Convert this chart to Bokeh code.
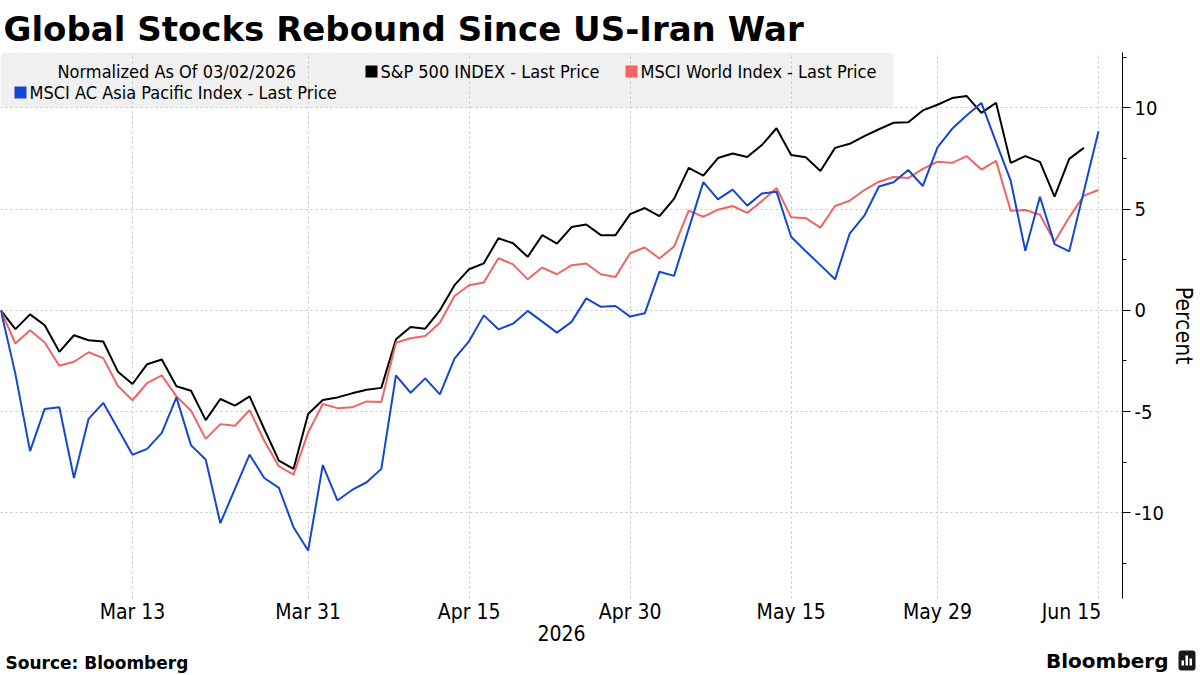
import pandas as pd
from bokeh.plotting import figure
from bokeh.layouts import column, row
from bokeh.core.properties import value
from bokeh.models import Range1d, FixedTicker, Label, BoxAnnotation, ColumnDataSource
from bokeh.embed import file_html
from bokeh.resources import INLINE

# Trading calendar (weekdays), normalized to 0 on 03/02/2026
dates = pd.bdate_range("2026-03-02", "2026-06-15")

spx = [0.00, -0.93, -0.20, -0.74, -2.05, -1.23, -1.48, -1.54, -3.03, -3.64,
       -2.66, -2.43, -3.75, -3.97, -5.42, -4.38, -4.71, -4.25, -5.86, -7.42,
       -7.83, -5.12, -4.43, -4.30, -4.10, -3.92, -3.83, -1.43, -0.82, -0.91,
       0.00, 1.24, 2.03, 2.32, 3.56, 3.31, 2.64, 3.71, 3.29, 4.11,
       4.24, 3.71, 3.71, 4.75, 5.05, 4.65, 5.50, 7.03, 6.65, 7.52,
       7.74, 7.57, 8.16, 8.99, 7.67, 7.56, 6.88, 8.02, 8.22, 8.60,
       8.94, 9.26, 9.29, 9.87, 10.15, 10.48, 10.58, 9.75, 10.25, 7.28,
       7.61, 7.33, 5.61, 7.48, 8.02]

world = [0.00, -1.64, -0.98, -1.59, -2.74, -2.54, -2.07, -2.36, -3.74, -4.44,
         -3.59, -3.21, -4.25, -4.96, -6.35, -5.62, -5.70, -4.93, -6.44, -7.70,
         -8.11, -6.03, -4.63, -4.83, -4.79, -4.50, -4.53, -1.60, -1.38, -1.27,
         -0.61, 0.71, 1.24, 1.37, 2.57, 2.27, 1.53, 2.11, 1.78, 2.23,
         2.31, 1.78, 1.65, 2.82, 3.10, 2.56, 3.15, 4.92, 4.62, 4.97,
         5.15, 4.81, 5.39, 6.04, 4.60, 4.55, 4.08, 5.15, 5.41, 5.94,
         6.35, 6.58, 6.53, 6.98, 7.34, 7.28, 7.61, 6.95, 7.38, 4.92,
         4.95, 4.72, 3.38, 4.59, 5.66, 5.94]

asia = [0.00, -3.15, -6.95, -4.87, -4.79, -8.28, -5.36, -4.57, -5.85, -7.13,
        -6.84, -6.05, -4.30, -6.67, -7.37, -10.51, -8.82, -7.13, -8.28, -8.77,
        -10.71, -11.86, -7.64, -9.39, -8.87, -8.49, -7.83, -3.21, -4.07, -3.36,
        -4.15, -2.39, -1.52, -0.25, -0.94, -0.66, -0.03, -0.56, -1.10, -0.57,
        0.59, 0.17, 0.21, -0.31, -0.15, 1.90, 1.70, 4.02, 6.33, 5.48,
        5.96, 5.17, 5.77, 5.86, 3.63, 2.92, 2.23, 1.53, 3.79, 4.67,
        6.11, 6.32, 6.93, 6.14, 8.05, 8.96, 9.63, 10.24, 8.30, 6.40,
        2.94, 5.61, 3.27, 2.91, 5.88, 8.84]

tick_dates = ["2026-03-13", "2026-03-31", "2026-04-15", "2026-04-30",
              "2026-05-15", "2026-05-29", "2026-06-15"]
tick_labels = ["Mar 13", "Mar 31", "Apr 15", "Apr 30", "May 15", "May 29", "Jun 15"]
y_ticks = [-10, -5, 0, 5, 10]
y_minor = [-12.5, -7.5, -2.5, 2.5, 7.5, 12.5]

series_names = ["S&P 500 INDEX - Last Price", "MSCI World Index - Last Price",
                "MSCI AC Asia Pacific Index - Last Price"]
colors = ["#000000", "#f06464", "#1546d2"]

COND = "DejaVu Sans Condensed"
BOLD = "DejaVu Sans"

pos = list(range(len(dates)))
date_index = {d.strftime("%Y-%m-%d"): i for i, d in enumerate(dates)}
tick_pos = [date_index[d] for d in tick_dates]

MAIN_H = 648
FOOT_H = 675 - MAIN_H

p = figure(width=1200, height=MAIN_H, output_backend="svg", toolbar_location=None,
           x_range=Range1d(-0.02, 76.64), y_range=Range1d(-14.23, 12.73),
           y_axis_location="right",
           min_border_left=0, min_border_right=78, min_border_top=52,
           min_border_bottom=50)
p.outline_line_color = None
p.background_fill_color = "white"
p.border_fill_color = "white"

# title
p.title.text = "Global Stocks Rebound Since US-Iran War"
p.title.text_font = BOLD
p.title.text_font_size = "34px"
p.title.text_font_style = "bold"
p.title.text_color = "black"
p.title.align = "left"
p.title.offset = 3
p.title.standoff = 8

# x axis
xax = p.xaxis[0]
xax.ticker = FixedTicker(ticks=tick_pos, minor_ticks=[])
labels = dict(zip(tick_pos, tick_labels))
labels[tick_pos[-1]] = tick_labels[-1] + "\u00a0" * 9
xax.major_label_overrides = labels
xax.axis_line_color = None
xax.major_tick_line_color = None
xax.minor_tick_line_color = None
xax.major_tick_out = 0
xax.major_tick_in = 0
xax.minor_tick_out = 0
xax.major_label_text_font = COND
xax.major_label_text_font_size = "21px"
xax.major_label_text_color = "black"
xax.major_label_standoff = 1
xax.axis_label = "2026"
xax.axis_label_text_font = COND
xax.axis_label_text_font_size = "21px"
xax.axis_label_text_font_style = "normal"
xax.axis_label_text_color = "black"
xax.axis_label_standoff = -2

# y axis
yax = p.yaxis[0]
yax.ticker = FixedTicker(ticks=y_ticks, minor_ticks=y_minor)
yax.major_label_overrides = {t: str(t) for t in y_ticks}
yax.axis_line_color = "black"
yax.major_tick_out = 8
yax.major_tick_in = 0
yax.minor_tick_out = 4
yax.minor_tick_in = 0
yax.major_tick_line_color = "black"
yax.minor_tick_line_color = "black"
yax.major_label_text_font = COND
yax.major_label_text_font_size = "20px"
yax.major_label_text_color = "black"
yax.major_label_standoff = 4
yax.axis_label = "Percent"
yax.axis_label_text_font = COND
yax.axis_label_text_font_size = "23px"
yax.axis_label_text_font_style = "normal"
yax.axis_label_text_color = "black"
yax.axis_label_standoff = 4

# grids
p.xgrid.ticker = FixedTicker(ticks=tick_pos)
p.ygrid.ticker = FixedTicker(ticks=y_ticks)
for g in (p.xgrid, p.ygrid):
    g.grid_line_color = "#c4c4c4"
    g.grid_line_dash = "2 3"
    g.grid_line_width = 1

# legend panel (drawn beneath the grid)
FB = 598  # frame bottom in canvas pixels


def sy(cy):
    return FB - cy


p.add_layout(BoxAnnotation(left=0, right=893, top=sy(52), bottom=sy(107),
                           left_units="screen", right_units="screen",
                           top_units="screen", bottom_units="screen",
                           fill_color="#f0f0f0", fill_alpha=1.0, line_color=None,
                           border_radius=5, level="image"))

p.add_layout(Label(x=57, y=sy(71), x_units="screen", y_units="screen",
                   text="Normalized As Of 03/02/2026", text_font=COND,
                   text_font_size="18px", text_baseline="middle", text_color="black"))

legend_slots = [(371, 71), (631, 71), (20, 92)]
for name, col, (cx, cy) in zip(series_names, colors, legend_slots):
    p.add_layout(BoxAnnotation(left=cx - 6, right=cx + 6, top=sy(cy - 6), bottom=sy(cy + 6),
                               left_units="screen", right_units="screen",
                               top_units="screen", bottom_units="screen",
                               fill_color=col, fill_alpha=1.0, line_color=None))
    p.add_layout(Label(x=cx + 9, y=sy(cy), x_units="screen", y_units="screen",
                       text=name, text_font=COND, text_font_size="18px",
                       text_baseline="middle", text_color="black"))

# series
for vals, col in zip([spx, world, asia], colors):
    src = ColumnDataSource(dict(x=pos[:len(vals)], y=vals))
    p.line("x", "y", source=src, line_color=col, line_width=2)

# footer strip: pixel-like coordinates, y measured downward from its top
foot = figure(width=1200, height=FOOT_H, output_backend="svg", toolbar_location=None,
              x_range=Range1d(0, 1200), y_range=Range1d(FOOT_H, 0),
              x_axis_location=None, y_axis_location=None,
              min_border_left=0, min_border_right=0, min_border_top=0,
              min_border_bottom=0)
foot.outline_line_color = None
foot.grid.visible = False

foot.text(x=[5], y=[14], text=["Source: Bloomberg"], text_font=value(BOLD),
          text_font_style="bold", text_font_size="17px", text_baseline="middle",
          text_color="black")
foot.text(x=[1168], y=[12], text=["Bloomberg"], text_font=value(BOLD),
          text_font_style="bold", text_font_size="20px", text_baseline="middle",
          text_align="right", text_color="black")
# logo mark: dark tile with small white bars
foot.quad(left=[1178], right=[1195], top=[2], bottom=[22], fill_color="#1a1a1a",
          line_color=None, border_radius=3)
foot.quad(left=[1181, 1185, 1189], right=[1183.5, 1187.5, 1191.5],
          top=[12, 7, 10], bottom=[17, 17, 17], fill_color="white", line_color=None)

layout = column(p, row(foot, spacing=0), spacing=0)
open("out.html", "w").write(file_html(layout, INLINE))
